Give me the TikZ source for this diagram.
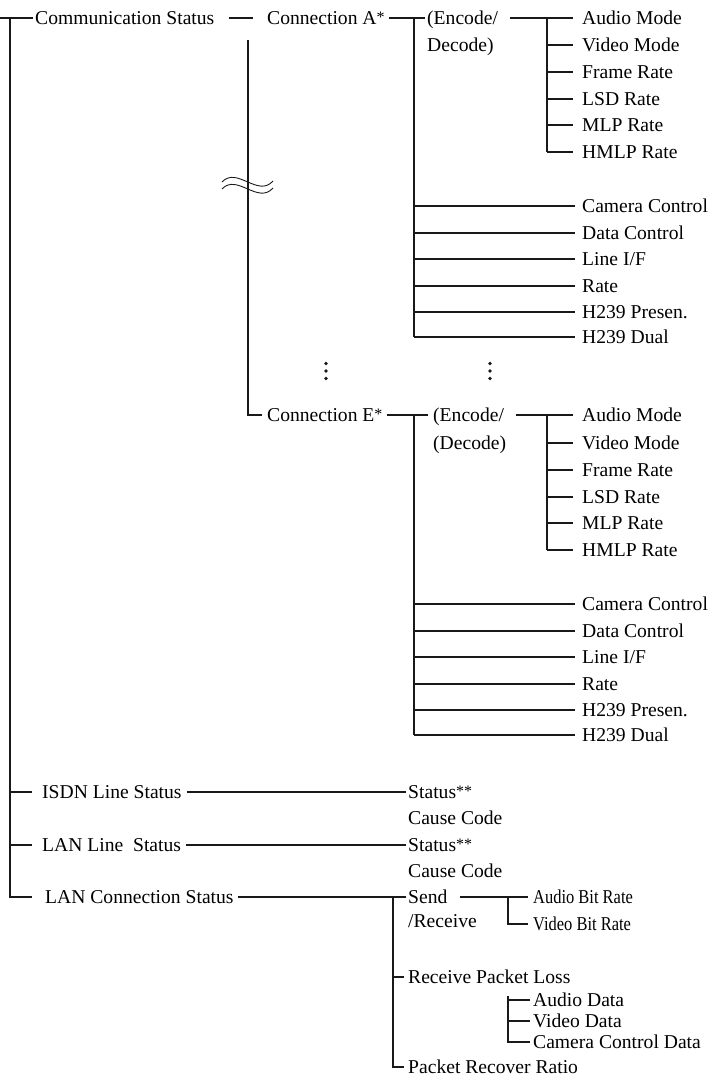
\documentclass[tikz,border=0pt]{standalone}
\usepackage{fontspec}
\usepackage{graphicx}
\setmainfont{Liberation Serif}
\newcommand{\astmark}[1]{\raisebox{2.5pt}{\fontsize{16}{16}\selectfont #1}}
\begin{document}
\begin{tikzpicture}[x=1pt,y=-1pt,
  lbl/.style={anchor=west, inner sep=0pt, text height=13pt, text depth=0pt,
              font=\fontsize{19.6}{22}\selectfont},
  cond/.style={lbl},
  ln/.style={line width=1.1pt, draw=black!90},
  dotm/.style={fill=black!90, draw=none}]
\useasboundingbox (0,0) rectangle (711,1077);

% ---------- level 1 ----------
\node[lbl] (comm) at (35,18) {Communication Status};
\node[lbl] (isdn) at (42,792) {ISDN Line Status};
\node[lbl] (lanl) at (42,845) {LAN Line\ \ Status};
\node[lbl] (lanc) at (45,897) {LAN Connection Status};
\coordinate (rootL) at (0,18);
\coordinate (rootT) at (10,18);
\coordinate (rootB) at (10,897);
\draw[ln] (rootL) -- ([xshift=-2pt]comm.west);
\draw[ln] (rootT) -- (rootB) -- ([xshift=-13pt]lanc.west);
\draw[ln] (10,792) -- ([xshift=-10pt]isdn.west);
\draw[ln] (10,845) -- ([xshift=-10pt]lanl.west);

% ---------- connections ----------
\node[lbl] (conA) at (267,18) {Connection A\astmark{*}};
\node[lbl] (conE) at (267,415) {Connection E\astmark{*}};
\draw[ln] ([xshift=14pt]comm.east) -- ([xshift=-14pt]conA.west);
\coordinate (vcTop) at (248,40);
\draw[ln] (vcTop) |- ([xshift=-5pt]conE.west);
% break mark
\draw[ln, line width=0.9pt] (222,182) .. controls (237,166) and (258,198) .. (273,181);
\draw[ln, line width=0.9pt] (222,189) .. controls (237,173) and (258,205) .. (273,188);

% ---------- block A ----------
\node[lbl] (encA) at (427,18) {(Encode/};
\node[lbl] (decA) at (427,45) {Decode)};
\coordinate (jA) at (414,18);
\draw[ln] ([xshift=4pt]conA.east) -- ([xshift=-2pt]encA.west);
\draw[ln] ([xshift=12pt]encA.east) -- (573,18);
\draw[ln] (547,18) -- (547,152);
\foreach \t/\y [count=\i] in {{Audio Mode}/18,{Video Mode}/45,{Frame Rate}/72,{LSD Rate}/99,{MLP Rate}/125,{HMLP Rate}/152}{
  \node[lbl] (sA\i) at (582,\y) {\t};
  \draw[ln] (547,\y) -- ([xshift=-9pt]sA\i.west);
}
\draw[ln] (jA) -- (414,337);
\foreach \t/\y [count=\i] in {{Camera Control}/206,{Data Control}/233,{Line I/F}/259,{Rate}/286,{H239 Presen.}/312,{H239 Dual}/337}{
  \node[lbl] (oA\i) at (582,\y) {\t};
  \draw[ln] (414,\y) -- ([xshift=-7pt]oA\i.west);
}

% ---------- dots ----------
\foreach \x/\n in {326/a,490/b}{
  \coordinate (dots\n) at (\x,371);
  \foreach \dy in {-7.5,0,7.5}{
    \fill[dotm] ([yshift=-\dy pt]dots\n) circle (1.8pt);
  }
}

% ---------- block E ----------
\node[lbl] (encE) at (433,415) {(Encode/};
\node[lbl] (decE) at (433,443) {(Decode)};
\coordinate (jE) at (414,415);
\draw[ln] ([xshift=4pt]conE.east) -- ([xshift=-5pt]encE.west);
\draw[ln] ([xshift=12pt]encE.east) -- (573,415);
\draw[ln] (547,415) -- (547,550);
\foreach \t/\y [count=\i] in {{Audio Mode}/415,{Video Mode}/443,{Frame Rate}/470,{LSD Rate}/497,{MLP Rate}/523,{HMLP Rate}/550}{
  \node[lbl] (sE\i) at (582,\y) {\t};
  \draw[ln] (547,\y) -- ([xshift=-9pt]sE\i.west);
}
\draw[ln] (jE) -- (414,735);
\foreach \t/\y [count=\i] in {{Camera Control}/604,{Data Control}/631,{Line I/F}/657,{Rate}/684,{H239 Presen.}/710,{H239 Dual}/735}{
  \node[lbl] (oE\i) at (582,\y) {\t};
  \draw[ln] (414,\y) -- ([xshift=-7pt]oE\i.west);
}

% ---------- ISDN / LAN line ----------
\node[lbl] (st1) at (408,792) {Status\astmark{**}};
\node[lbl] (cc1) at (408,818) {Cause Code};
\node[lbl] (st2) at (408,845) {Status\astmark{**}};
\node[lbl] (cc2) at (408,871) {Cause Code};
\draw[ln] ([xshift=5pt]isdn.east) -- ([xshift=-2pt]st1.west);
\draw[ln] ([xshift=5pt]lanl.east) -- ([xshift=-2pt]st2.west);

% ---------- LAN connection ----------
\node[lbl] (send) at (408,897) {Send};
\node[lbl] (recv) at (408,921) {/Receive};
\node[lbl] (rpl) at (408,977) {Receive Packet Loss};
\node[lbl] (prr) at (408,1067) {Packet Recover Ratio};
\draw[ln] ([xshift=4pt]lanc.east) -- ([xshift=-2pt]send.west);
\coordinate (jL) at (393,897);
\draw[ln] (jL) |- ([xshift=-4pt]prr.west);
\draw[ln] (393,977) -- ([xshift=-4pt]rpl.west);

\node[cond] (abr) at (533,897) {\scalebox{0.84}[1]{Audio Bit Rate}};
\node[cond] (vbr) at (533,924) {\scalebox{0.84}[1]{Video Bit Rate}};
\draw[ln] ([xshift=12pt]send.east) -- ([xshift=-5pt]abr.west);
\draw[ln] (508,897) |- ([xshift=-5pt]vbr.west);

\node[lbl] (ad) at (533,1000) {Audio Data};
\node[lbl] (vd) at (533,1021) {Video Data};
\node[lbl] (cd) at (533,1042) {Camera Control Data};
\draw[ln] (508,996) |- ([xshift=-3pt]cd.west);
\draw[ln] (508,1000) -- ([xshift=-3pt]ad.west);
\draw[ln] (508,1021) -- ([xshift=-3pt]vd.west);
\end{tikzpicture}
\end{document}
